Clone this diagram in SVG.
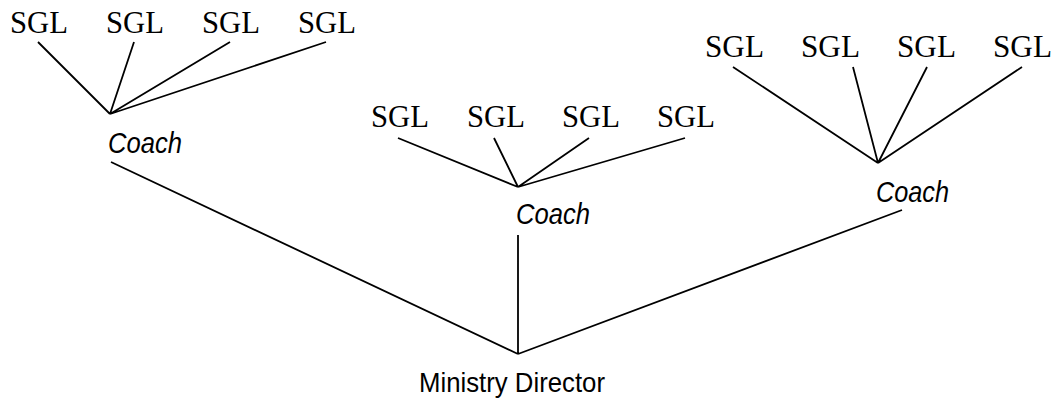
<svg xmlns="http://www.w3.org/2000/svg" width="1056" height="400" viewBox="0 0 1056 400">
<style>
.sgl{font-family:"Liberation Serif","Times New Roman",serif;font-size:32px;fill:#000}
.coach{font-family:"Liberation Sans",Arial,sans-serif;font-size:29px;font-style:italic;fill:#000}
.md{font-family:"Liberation Sans",Arial,sans-serif;font-size:28.5px;fill:#000}
.ln{stroke:#000;stroke-width:1.8;fill:none;stroke-linecap:butt}
</style>
<rect width="1056" height="400" fill="#fff"/>
<g id="connectors">
<path class="ln" d="M38 42L110 114M134 42L110 114M230 42L110 114M326 42L110 114"/>
<path class="ln" d="M398 138L518 187M494 138L518 187M589 138L518 187M685 138L518 187"/>
<path class="ln" d="M733 67L878 163M853 67L878 163M927 67L878 163M1022 67L878 163"/>
<path class="ln" d="M111 162L518 354M518 235L518 354M902 210L518 354"/>
</g>
<g id="sgl1a"><text class="sgl" x="10" y="33" textLength="58" lengthAdjust="spacingAndGlyphs">SGL</text></g>
<g id="sgl1b"><text class="sgl" x="106" y="33" textLength="58" lengthAdjust="spacingAndGlyphs">SGL</text></g>
<g id="sgl1c"><text class="sgl" x="202" y="33" textLength="58" lengthAdjust="spacingAndGlyphs">SGL</text></g>
<g id="sgl1d"><text class="sgl" x="298" y="33" textLength="58" lengthAdjust="spacingAndGlyphs">SGL</text></g>
<g id="coach1"><text class="coach" x="108" y="153" textLength="74" lengthAdjust="spacingAndGlyphs">Coach</text></g>
<g id="sgl2a"><text class="sgl" x="371" y="127" textLength="58" lengthAdjust="spacingAndGlyphs">SGL</text></g>
<g id="sgl2b"><text class="sgl" x="467" y="127" textLength="58" lengthAdjust="spacingAndGlyphs">SGL</text></g>
<g id="sgl2c"><text class="sgl" x="562" y="127" textLength="58" lengthAdjust="spacingAndGlyphs">SGL</text></g>
<g id="sgl2d"><text class="sgl" x="657" y="127" textLength="58" lengthAdjust="spacingAndGlyphs">SGL</text></g>
<g id="coach2"><text class="coach" x="516" y="224" textLength="74" lengthAdjust="spacingAndGlyphs">Coach</text></g>
<g id="sgl3a"><text class="sgl" x="705" y="57" textLength="59" lengthAdjust="spacingAndGlyphs">SGL</text></g>
<g id="sgl3b"><text class="sgl" x="801" y="57" textLength="59" lengthAdjust="spacingAndGlyphs">SGL</text></g>
<g id="sgl3c"><text class="sgl" x="897" y="57" textLength="59" lengthAdjust="spacingAndGlyphs">SGL</text></g>
<g id="sgl3d"><text class="sgl" x="993" y="57" textLength="59" lengthAdjust="spacingAndGlyphs">SGL</text></g>
<g id="coach3"><text class="coach" x="876" y="202" textLength="73" lengthAdjust="spacingAndGlyphs">Coach</text></g>
<g id="director"><text class="md" x="419" y="392" textLength="186" lengthAdjust="spacingAndGlyphs">Ministry Director</text></g>
</svg>
